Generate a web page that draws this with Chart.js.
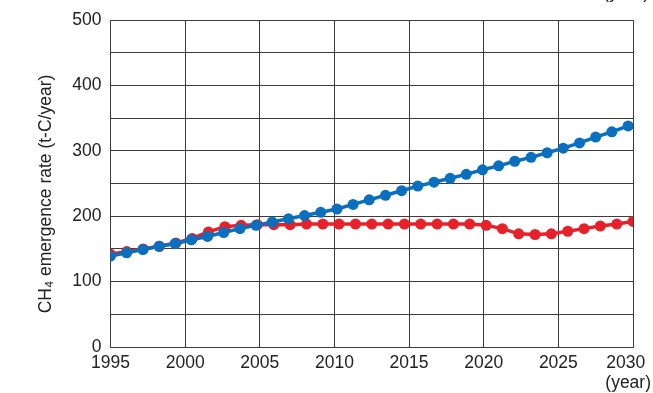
<!DOCTYPE html>
<html>
<head>
<meta charset="utf-8">
<script src="https://cdn.jsdelivr.net/npm/chart.js@4.4.1/dist/chart.umd.min.js"></script>
<style>
  html, body { margin: 0; padding: 0; background: #fff; }
  #wrap { width: 653px; height: 393px; position: relative; }
</style>
</head>
<body>
<div id="wrap"><canvas id="ch4Chart"></canvas></div>
<script>
// Years of each point (the two series are spaced a little differently)
const blueYears = [1995.00, 1996.08, 1997.17, 1998.25, 1999.33, 2000.42, 2001.50, 2002.58, 2003.67, 2004.75, 2005.83,
                   2006.92, 2008.00, 2009.08, 2010.17, 2011.25, 2012.33, 2013.42, 2014.50, 2015.58, 2016.67, 2017.75,
                   2018.83, 2019.92, 2021.00, 2022.08, 2023.17, 2024.25, 2025.33, 2026.42, 2027.50, 2028.58, 2029.67];
const blueValues = [139, 144, 149, 154, 158, 164, 169, 175, 181, 186, 191,
                    196, 201, 206, 211, 218, 225, 232, 239, 246, 252, 258,
                    264, 271, 277, 284, 290, 297, 304, 312, 321, 329, 338];

const redYears = [1995.00, 1996.09, 1997.19, 1998.28, 1999.38, 2000.47, 2001.56, 2002.66, 2003.75, 2004.84, 2005.94,
                  2007.03, 2008.13, 2009.22, 2010.31, 2011.41, 2012.50, 2013.59, 2014.69, 2015.78, 2016.88, 2017.97,
                  2019.06, 2020.16, 2021.25, 2022.34, 2023.44, 2024.53, 2025.63, 2026.72, 2027.81, 2028.91, 2030.00];
const redValues = [142, 146, 150, 154, 159, 166, 176, 184, 186, 187, 187,
                   187, 188, 188, 188, 188, 188, 188, 188, 188, 188, 188,
                   188, 186, 181, 173, 172, 173, 177, 181, 185, 188, 192];

const xTicks = [1995, 2000, 2005, 2010, 2015, 2020, 2025, 2030];
const yTickLabels = [0, 100, 200, 300, 400, 500];

const yTitle = "CH\u2084 emergence rate (t-C/year)";
const xUnit = "(year)";

const fontFamily = "'Liberation Sans', Arial, sans-serif";

function toPoints(xs, ys) {
    return xs.map((x, i) => ({ x: x, y: ys[i] }));
}

// draws the axis title and the "(year)" unit labels (one below the axis, one clipped at the top edge)
const extraLabels = {
    id: "extraLabels",
    afterDraw(chart) {
        const ctx = chart.ctx;
        ctx.save();
        ctx.fillStyle = "#222";
        ctx.font = "17.5px " + fontFamily;
        ctx.textAlign = "right";
        ctx.textBaseline = "alphabetic";
        ctx.fillText(xUnit, 651, 388);
        ctx.fillText(xUnit, 649, -2);

        // rotated y title
        ctx.translate(51, 194);
        ctx.rotate(-Math.PI / 2);
        ctx.textAlign = "center";
        ctx.fillText(yTitle, 0, 0);
        ctx.restore();
    }
};

const gridColor = "#3c3c3c";

new Chart(document.getElementById("ch4Chart"), {
    type: "line",
    data: {
        datasets: [
            {
                label: "blue",
                data: toPoints(blueYears, blueValues),
                borderColor: "#0a6fbe",
                backgroundColor: "#0a6fbe",
                borderWidth: 3.5,
                pointRadius: 5.5,
                pointBorderWidth: 0,
                pointHoverRadius: 5.5,
                tension: 0
            },
            {
                label: "red",
                data: toPoints(redYears, redValues),
                borderColor: "#e8202a",
                backgroundColor: "#e8202a",
                borderWidth: 3.5,
                pointRadius: 5.5,
                pointBorderWidth: 0,
                pointHoverRadius: 5.5,
                tension: 0
            }
        ]
    },
    options: {
        responsive: true,
        maintainAspectRatio: false,
        animation: false,
        layout: { padding: { top: 20, right: 20, left: 0, bottom: 0 } },
        plugins: {
            legend: { display: false },
            tooltip: { enabled: false }
        },
        scales: {
            x: {
                type: "linear",
                min: 1995,
                max: 2030,
                afterBuildTicks: (scale) => { scale.ticks = xTicks.map(v => ({ value: v })); },
                afterFit: (scale) => {
                    scale.height = 46;
                    scale.paddingLeft = 0;
                    scale.paddingRight = 0;
                },
                grid: { color: gridColor, lineWidth: 1, drawTicks: false },
                border: { color: gridColor, width: 1 },
                ticks: {
                    color: "#222",
                    padding: 6,
                    maxRotation: 0,
                    font: { family: fontFamily, size: 17.5 },
                    // last label sits a bit left of its gridline in the original
                    callback: (v) => v === 2030 ? String(v) + "   " : String(v)
                }
            },
            y: {
                min: 0,
                max: 500,
                afterFit: (scale) => {
                    scale.width = 110.5;
                    scale.paddingTop = 0;
                    scale.paddingBottom = 0;
                },
                grid: { color: gridColor, lineWidth: 1, drawTicks: false },
                border: { color: gridColor, width: 1 },
                ticks: {
                    stepSize: 50,
                    color: "#222",
                    padding: 9,
                    font: { family: fontFamily, size: 17.5 },
                    callback: (v) => yTickLabels.includes(v) ? String(v) : ""
                }
            }
        }
    },
    plugins: [extraLabels]
});
</script>
</body>
</html>
